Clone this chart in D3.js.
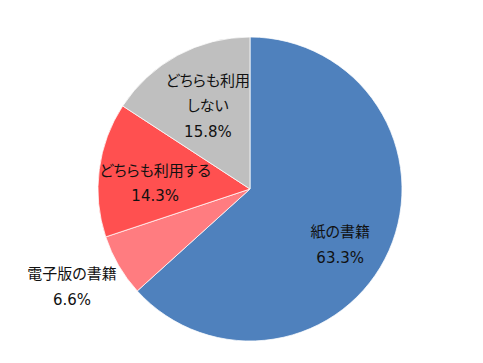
<!DOCTYPE html>
<html>
<head>
<meta charset="utf-8">
<script src="https://cdn.jsdelivr.net/npm/d3@7"></script>
<style>
  body { margin: 0; background: #fff; }
  svg { display: block; }
  text { font-family: "DejaVu Sans", "Noto Sans CJK JP", sans-serif; font-size: 15px; fill: #111; font-feature-settings: "palt"; }
</style>
</head>
<body>
<div id="chart"></div>
<script>
// data
const categories = ["紙の書籍", "電子版の書籍", "どちらも利用する", "どちらも利用しない"];
const values = [63.3, 6.6, 14.3, 15.8];
const labelLines = [["紙の書籍"], ["電子版の書籍"], ["どちらも利用する"], ["どちらも利用", "しない"]];
const colors = ["#4f81bd", "#ff7c80", "#ff5050", "#bfbfbf"];

(function(){
	const svgWidth = 483, svgHeight = 363;
	const cx = 250, cy = 189, radius = 152;
	// label anchor (angle deg clockwise from top, distance from centre)
	const labelPolar = [[121.7, 106], [241.3, 203], [273.6, 95], [333.1, 93]];

	const svg = d3.select("#chart").append("svg").attr("width", svgWidth).attr("height", svgHeight);
	const g = svg.append("g").attr("transform", `translate(${cx}, ${cy})`);

	const pie = d3.pie().sort(null).value(d => d);
	const arc = d3.arc().innerRadius(0).outerRadius(radius);
	const arcs = pie(values);

	g.selectAll("path").data(arcs).enter().append("path")
		.attr("d", arc)
		.attr("fill", (d, i) => colors[i])
		.attr("stroke", "#fff")
		.attr("stroke-width", 0.75);

	arcs.forEach(function(d, i){
		const a = labelPolar[i][0] * Math.PI / 180, r = labelPolar[i][1];
		const x = r * Math.sin(a), y = -r * Math.cos(a);
		const lines = labelLines[i].concat([d3.format(".1f")(values[i]) + "%"]);
		const lh = 25.3;
		const y0 = y - (lines.length - 1) * lh / 2;
		lines.forEach(function(t, j){
			g.append("text").attr("x", x).attr("y", y0 + j * lh)
				.attr("text-anchor", "middle").attr("dy", "0.36em").text(t);
		});
	});
})();
</script>
</body>
</html>
